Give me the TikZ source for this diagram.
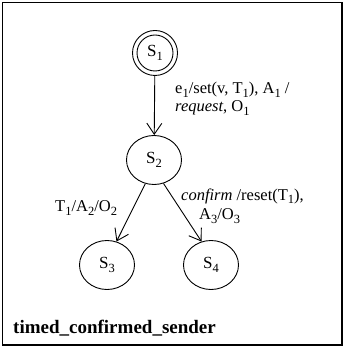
\documentclass[tikz,border=0pt]{standalone}
\usepackage{fontspec}
\setmainfont{Liberation Serif}
\usetikzlibrary{arrows.meta,shapes.geometric}
\newcommand{\sbs}[1]{\raisebox{-0.45ex}{\fontsize{12.5}{13}\selectfont #1}}
\begin{document}
\begin{tikzpicture}[x=1pt,y=-1pt,
  state/.style={draw,line width=0.9pt,ellipse,minimum width=55pt,minimum height=49pt,inner sep=0pt,font=\fontsize{17}{19}\selectfont},
  trans/.style={draw,line width=0.9pt,-{Straight Barb[length=11pt,width=15pt,line width=0.9pt]}},
  lab/.style={font=\fontsize{16.5}{19}\selectfont,inner sep=0pt,anchor=west}]
\useasboundingbox (0,0) rectangle (345,347);
\draw[line width=1.2pt] (2.5,2.5) rectangle (342,345);
\node[draw,circle,line width=0.9pt,minimum size=45pt,inner sep=0pt] (s1o) at (155,53) {};
\node[draw,circle,line width=0.9pt,minimum size=36pt,inner sep=0pt,font=\fontsize{17}{19}\selectfont] (s1) at (155,53) {S\sbs{1}};
\node[state] (s2) at (154,160) {S\sbs{2}};
\node[state] (s3) at (107,265) {S\sbs{3}};
\node[state] (s4) at (211,265) {S\sbs{4}};
\draw[trans] (s1o) -- (s2);
\draw[trans] (s2.-110) -- (s3.68);
\draw[trans] (s2.-68) -- (s4.112);
\node[lab] (l1) at (175,90) {e\sbs{1}/set(v, T\sbs{1}), A\sbs{1} /};
\node[lab] (l2) at (175,108) {\textit{request}, O\sbs{1}};
\node[lab] (l3) at (55,208) {T\sbs{1}/A\sbs{2}/O\sbs{2}};
\node[lab] (l4) at (181,196) {\textit{confirm} /reset(T\sbs{1}),};
\node[lab] (l5) at (199,216) {A\sbs{3}/O\sbs{3}};
\node[lab,font=\fontsize{19}{21}\selectfont\bfseries] (title) at (13,328) {timed\_confirmed\_sender};
\end{tikzpicture}
\end{document}
